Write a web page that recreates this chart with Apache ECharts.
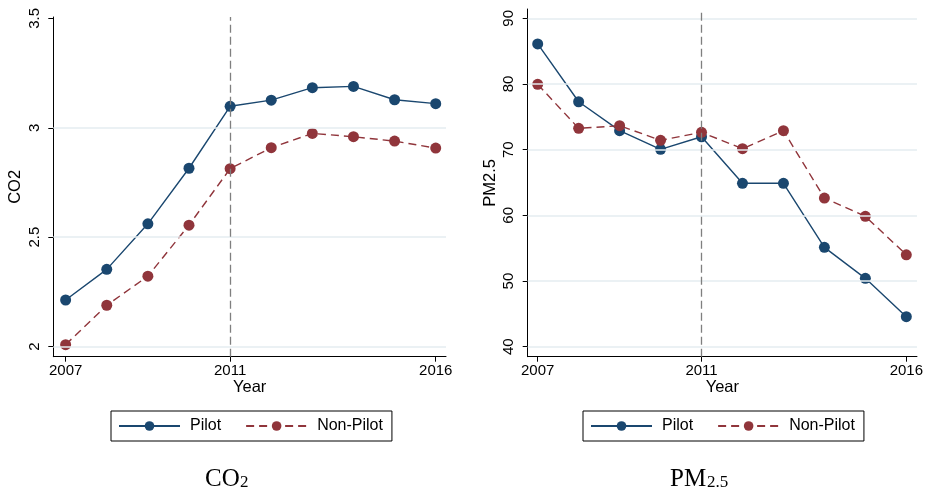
<!DOCTYPE html>
<html>
<head>
<meta charset="utf-8">
<script src="https://cdn.jsdelivr.net/npm/echarts@6/dist/echarts.min.js"></script>
<style>
  html, body { margin: 0; padding: 0; background: #fff; }
  #chart { width: 926px; height: 495px; }
</style>
</head>
<body>
<div id="chart"></div>
<script>
// ---- data ----
const years = [2007, 2008, 2009, 2010, 2011, 2012, 2013, 2014, 2015, 2016];
const co2Pilot = [2.213, 2.353, 2.561, 2.815, 3.098, 3.126, 3.183, 3.189, 3.128, 3.110];
const co2NonPilot = [2.009, 2.189, 2.322, 2.555, 2.813, 2.909, 2.974, 2.959, 2.939, 2.907];
const pmPilot = [86.1, 77.3, 72.9, 70.05, 71.97, 64.88, 64.88, 55.13, 50.41, 44.57];
const pmNonPilot = [79.95, 73.25, 73.65, 71.43, 72.64, 70.15, 72.89, 62.64, 59.85, 54.0];
const yearTicks = [2007, 2011, 2016];
const co2Ticks = [2, 2.5, 3, 3.5];
const co2GridLines = [2, 2.5, 3];
const pmTicks = [40, 50, 60, 70, 80, 90];
const pmGridLines = [40, 50, 60, 70, 80, 90];
const policyYear = 2011;
const seriesNames = ['Pilot', 'Non-Pilot'];

// ---- styles ----
const NAVY = '#1a476f';
const MAROON = '#90353b';
const FONT = 'Liberation Sans';
const pairs = arr => years.map((y, i) => [y, arr[i]]);

const chart = echarts.init(document.getElementById('chart'));

function xAxisCfg(gridIndex, min, max) {
  return {
    type: 'value', gridIndex, min, max,
    name: 'Year', nameLocation: 'middle', nameGap: 22, nameMoveOverlap: false,
    nameTextStyle: { fontFamily: FONT, fontSize: 16.5, color: '#000' },
    axisLine: { show: true, onZero: false, lineStyle: { color: '#000', width: 1 } },
    axisTick: { show: true, length: 5, customValues: yearTicks, lineStyle: { color: '#000' } },
    axisLabel: { customValues: yearTicks, fontFamily: FONT, fontSize: 15, color: '#000', margin: 7,
      formatter: v => String(v) },
    splitLine: { show: false }
  };
}
function yAxisCfg(gridIndex, min, max, ticks, name) {
  return {
    type: 'value', gridIndex, min, max,
    name, nameLocation: 'middle', nameGap: 29, nameMoveOverlap: false,
    nameTextStyle: { fontFamily: FONT, fontSize: 16.5, color: '#000' },
    axisLine: { show: true, onZero: false, lineStyle: { color: '#000', width: 1 } },
    axisTick: { show: true, length: 5, customValues: ticks, lineStyle: { color: '#000' } },
    axisLabel: { customValues: ticks, rotate: 90, fontFamily: FONT, fontSize: 15, color: '#000', margin: 11,
      formatter: v => String(v) },
    splitLine: { show: false }
  };
}
function gridSeries(idx, vals) {
  return {
    type: 'line', xAxisIndex: idx, yAxisIndex: idx, data: [], z: 1, silent: true,
    markLine: {
      silent: true, symbol: 'none', label: { show: false }, animation: false,
      lineStyle: { color: '#e4edf0', type: 'solid', width: 1.5 },
      data: vals.map(v => ({ yAxis: v }))
    }
  };
}
function lineSeries(idx, name, arr, color, dashed, withVLine) {
  const s = {
    name, type: 'line', xAxisIndex: idx, yAxisIndex: idx, data: pairs(arr), z: 3,
    symbol: 'circle', symbolSize: 11, showSymbol: true,
    itemStyle: { color },
    lineStyle: { color, width: 1.4, type: dashed ? [8, 5] : 'solid' },
    animation: false
  };
  if (withVLine) {
    s.markLine = {
      silent: true, symbol: 'none', label: { show: false }, animation: false,
      lineStyle: { color: '#7f7f7f', type: [8, 4], width: 1.3 },
      data: [{ xAxis: policyYear }]
    };
  }
  return s;
}
function legendCfg(left) {
  return {
    data: seriesNames, left, top: 411, orient: 'horizontal',
    itemWidth: 61, itemHeight: 12, itemGap: 24,
    padding: [7, 9, 7, 7],
    borderColor: '#000', borderWidth: 1, backgroundColor: '#fff',
    textStyle: { fontFamily: FONT, fontSize: 16, color: '#000', padding: [0, 0, 0, 5] }
  };
}

chart.setOption({
  animation: false,
  backgroundColor: '#fff',
  grid: [
    { left: 53.3, right: 480, top: 17, bottom: 138.3 },
    { left: 527.7, right: 8.3, top: 9, bottom: 138.3 }
  ],
  xAxis: [xAxisCfg(0, 2006.70, 2016.25), xAxisCfg(1, 2006.756, 2016.26)],
  yAxis: [yAxisCfg(0, 1.954, 3.506, co2Ticks, 'CO2'), yAxisCfg(1, 38.48, 91.42, pmTicks, 'PM2.5')],
  legend: [legendCfg(111), legendCfg(583)],
  series: [
    gridSeries(0, co2GridLines),
    gridSeries(1, pmGridLines),
    lineSeries(0, 'Pilot', co2Pilot, NAVY, false, true),
    lineSeries(0, 'Non-Pilot', co2NonPilot, MAROON, true, false),
    lineSeries(1, 'Pilot', pmPilot, NAVY, false, true),
    lineSeries(1, 'Non-Pilot', pmNonPilot, MAROON, true, false)
  ],
  graphic: [
    { type: 'text', left: 205, top: 467, style: { text: 'CO', font: '25px "Liberation Serif"', fill: '#000' } },
    { type: 'text', left: 240, top: 474, style: { text: '2', font: '17px "Liberation Serif"', fill: '#000' } },
    { type: 'text', left: 670, top: 467, style: { text: 'PM', font: '25px "Liberation Serif"', fill: '#000' } },
    { type: 'text', left: 707, top: 474, style: { text: '2.5', font: '17px "Liberation Serif"', fill: '#000' } }
  ]
});
</script>
</body>
</html>
